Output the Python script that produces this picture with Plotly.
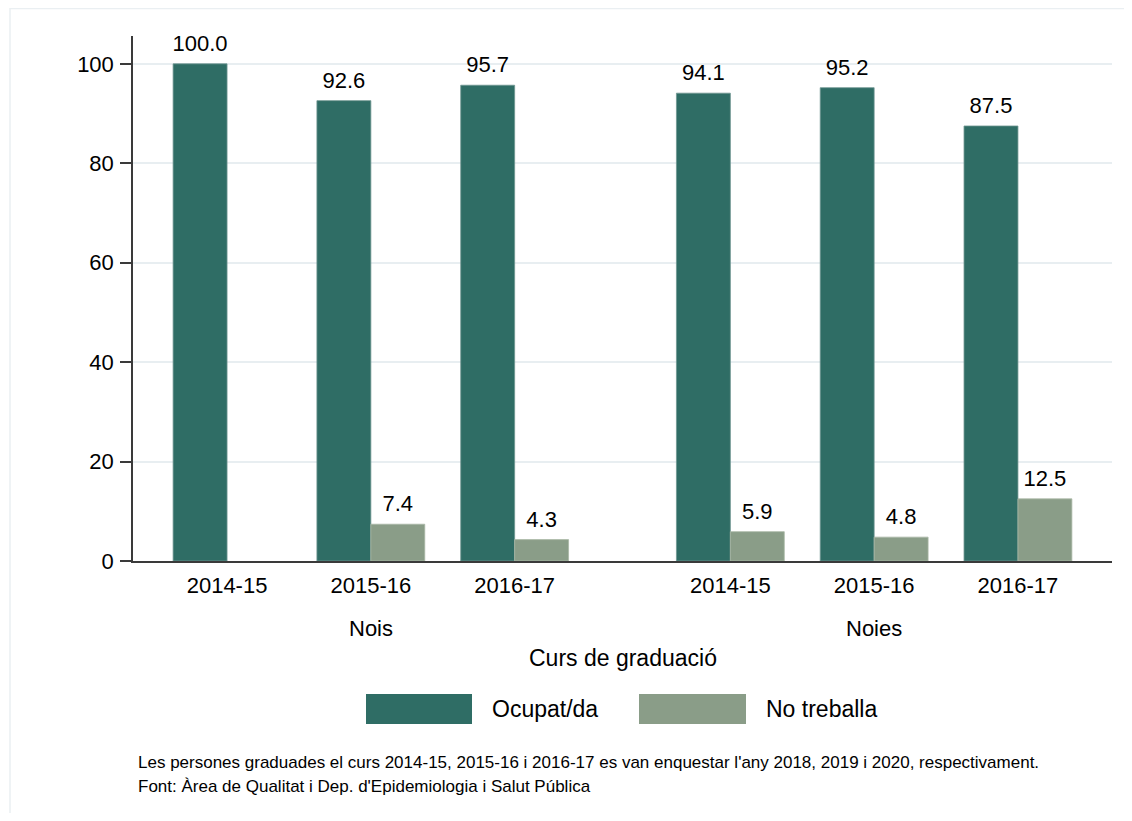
import plotly.graph_objects as go

groups = ["Nois", "Noies"]
courses = ["2014-15", "2015-16", "2016-17"]
ocupat = {"Nois": [100.0, 92.6, 95.7], "Noies": [94.1, 95.2, 87.5]}
no_treballa = {"Nois": [None, 7.4, 4.3], "Noies": [5.9, 4.8, 12.5]}
series_names = ["Ocupat/da", "No treballa"]
colors = ["#2f6d65", "#8a9d88"]
edge_colors = ["#6f9590", "#a9b8a6"]
y_ticks = [0, 20, 40, 60, 80, 100]
x_title = "Curs de graduació"
note1 = "Les persones graduades el curs 2014-15, 2015-16 i 2016-17 es van enquestar l'any 2018, 2019 i 2020, respectivament."
note2 = "Font: Àrea de Qualitat i Dep. d'Epidemiologia i Salut Pública"

FONT = "Liberation Sans, Arial, sans-serif"
group_step = len(courses) + 0.5
bargap = 0.25
bar_w = (1 - bargap) / 2

xs, labels, occ, nt = [], [], [], []
for g, grp in enumerate(groups):
    for i, c in enumerate(courses):
        xs.append(g * group_step + i)
        labels.append(c)
        occ.append(ocupat[grp][i])
        nt.append(no_treballa[grp][i])

fig = go.Figure()
series = [occ, nt]
for k in range(2):
    fig.add_trace(go.Bar(
        x=xs, y=series[k], name=series_names[k],
        marker=dict(color=colors[k], line=dict(color=edge_colors[k], width=0.8)),
        showlegend=False, hoverinfo="skip",
    ))
# value labels above each bar
for k in range(2):
    off = (k - 0.5) * bar_w
    lx = [x + off for x, v in zip(xs, series[k]) if v is not None]
    ly = [v for v in series[k] if v is not None]
    fig.add_trace(go.Scatter(
        x=lx, y=ly, mode="markers+text", text=[f"{v:.1f}" for v in ly],
        textposition="top center", marker=dict(size=10, opacity=0),
        textfont=dict(family=FONT, size=22, color="#000000"),
        cliponaxis=False, showlegend=False, hoverinfo="skip",
    ))

# screen geometry (page body has an 8px margin)
W, H = 1124, 805
OFF = 8
PL, PR, PT, PB = 133, 1112, 36, 561  # plot area in screen pixels
L, R, T, B = PL - OFF, W - (PR - OFF), PT - OFF, H - (PB - OFF)
pw, ph = PR - PL, PB - PT
def px(x):
    return (x - PL) / pw
def py(y):
    return (PB - y) / ph

ann = []
for g, grp in enumerate(groups):
    ann.append(dict(x=g * group_step + 1, y=py(628), xref="x", yref="paper", text=grp,
                    showarrow=False, font=dict(family=FONT, size=22, color="#000"), yanchor="middle"))
ann.append(dict(x=0.5, y=py(658), xref="paper", yref="paper", text=x_title, showarrow=False,
                font=dict(family=FONT, size=23, color="#000"), yanchor="middle"))

shapes = [dict(type="rect", xref="paper", yref="paper", x0=px(10), y0=py(840), x1=px(1145), y1=py(8.5),
               line=dict(color="#eaeff2", width=1.5), layer="below")]
leg = [(366, 472, 490, series_names[0], colors[0]), (639, 746, 764, series_names[1], colors[1])]
for x0, x1, xt, name, col in leg:
    shapes.append(dict(type="rect", xref="paper", yref="paper", x0=px(x0), x1=px(x1), y0=py(724), y1=py(694),
                       fillcolor=col, line=dict(width=0)))
    ann.append(dict(x=px(xt), y=py(709), xref="paper", yref="paper", text=name, showarrow=False,
                    xanchor="left", yanchor="middle", font=dict(family=FONT, size=23, color="#000")))
ann.append(dict(x=px(136), y=py(762), xref="paper", yref="paper", text=note1, showarrow=False,
                xanchor="left", yanchor="middle", font=dict(family=FONT, size=17, color="#000")))
ann.append(dict(x=px(136), y=py(786), xref="paper", yref="paper", text=note2, showarrow=False,
                xanchor="left", yanchor="middle", font=dict(family=FONT, size=17, color="#000")))

fig.update_layout(
    width=W, height=H, margin=dict(l=L, r=R, t=T, b=B, autoexpand=False),
    paper_bgcolor="white", plot_bgcolor="white",
    barmode="group", bargap=bargap, bargroupgap=0,
    annotations=ann, shapes=shapes, showlegend=False,
    font=dict(family=FONT, color="#000"),
)
fig.update_xaxes(
    tickvals=xs, ticktext=labels, range=[xs[0] - 0.654, xs[-1] + 0.654],
    showline=True, linecolor="#3a3a3a", linewidth=1.5, ticks="", showgrid=False, zeroline=False,
    tickfont=dict(family=FONT, size=22, color="#000"), ticklabelstandoff=4,
)
fig.update_yaxes(
    range=[0, 105.6], tickvals=y_ticks, showline=True, linecolor="#3a3a3a", linewidth=1.5,
    ticks="outside", ticklen=11, tickcolor="#3a3a3a", tickwidth=1.5,
    showgrid=True, gridcolor="#e8eef1", gridwidth=1.5, zeroline=False,
    tickfont=dict(family=FONT, size=22, color="#000"), ticklabelstandoff=2,
)
fig.write_html("out.html")
